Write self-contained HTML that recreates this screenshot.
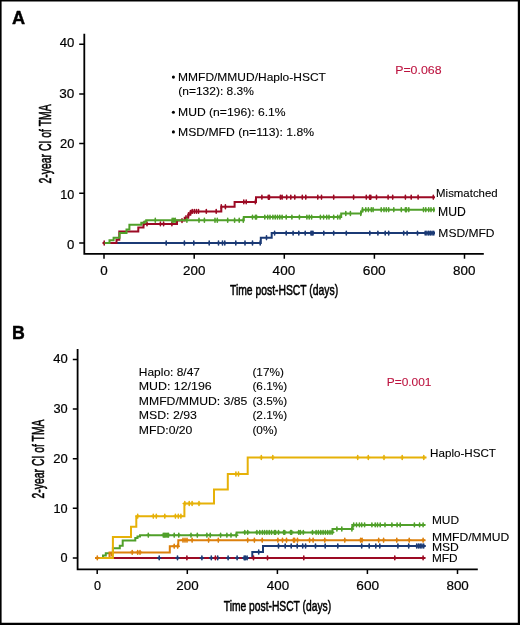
<!DOCTYPE html>
<html><head><meta charset="utf-8"><title>Figure</title>
<style>html,body{margin:0;padding:0;background:#fff;}body{width:520px;height:625px;overflow:hidden;font-family:"Liberation Sans", sans-serif;}svg{display:block;will-change:transform;}</style>
</head><body>
<svg width="520" height="625" viewBox="0 0 520 625"><rect x="0" y="0" width="520" height="625" fill="#fff"/><path d="M104.00,243.00H260.80V237.70H271.70V233.10H435.00" fill="none" stroke="#1b3a75" stroke-width="2.00" stroke-linejoin="miter" stroke-linecap="butt"/><path d="M166.20,241.10V244.90M184.40,241.10V244.90M193.80,241.10V244.90M209.20,241.10V244.90M218.50,241.10V244.90M222.50,241.10V244.90M224.80,241.10V244.90M235.80,241.10V244.90M245.00,241.10V244.90M252.50,241.10V244.90M260.20,241.10V244.90M266.50,235.80V239.60M274.60,231.20V235.00M286.20,231.20V235.00M293.10,231.20V235.00M298.80,231.20V235.00M305.20,231.20V235.00M311.00,231.20V235.00M312.00,231.20V235.00M313.00,231.20V235.00M323.80,231.20V235.00M333.70,231.20V235.00M346.30,231.20V235.00M369.80,231.20V235.00M377.90,231.20V235.00M385.20,231.20V235.00M388.70,231.20V235.00M403.70,231.20V235.00M407.10,231.20V235.00M417.50,231.20V235.00M425.20,231.20V235.00M426.90,231.20V235.00M428.70,231.20V235.00M430.40,231.20V235.00M432.10,231.20V235.00M433.80,231.20V235.00" stroke="#1b3a75" stroke-width="1.60" stroke-linecap="round" fill="none"/><path d="M102.50,243.00H116.50V239.80H119.30V231.40H138.30V227.40H143.50V223.90H177.00V220.60H184.70V217.80H188.20V214.80H190.30V212.50H191.90V211.40H221.30V206.80H234.60V201.90H256.00V197.20H435.00" fill="none" stroke="#9c0a24" stroke-width="2.00" stroke-linejoin="miter" stroke-linecap="butt"/><path d="M104.20,241.10V244.90M143.60,222.00V225.80M147.00,222.00V225.80M160.40,222.00V225.80M163.60,222.00V225.80M171.90,222.00V225.80M182.00,218.70V222.50M186.00,215.90V219.70M188.50,212.90V216.70M190.50,210.60V214.40M192.20,209.50V213.30M194.30,209.50V213.30M196.40,209.50V213.30M198.50,209.50V213.30M206.30,209.50V213.30M216.20,209.50V213.30M221.30,204.90V208.70M225.40,204.90V208.70M243.80,200.00V203.80M246.20,200.00V203.80M255.40,200.00V203.80M261.90,195.30V199.10M268.30,195.30V199.10M269.40,195.30V199.10M280.40,195.30V199.10M282.10,195.30V199.10M286.70,195.30V199.10M290.80,195.30V199.10M294.80,195.30V199.10M302.30,195.30V199.10M305.80,195.30V199.10M317.80,195.30V199.10M321.50,195.30V199.10M333.70,195.30V199.10M353.60,195.30V199.10M366.30,195.30V199.10M369.60,195.30V199.10M370.80,195.30V199.10M376.50,195.30V199.10M388.10,195.30V199.10M392.70,195.30V199.10M405.40,195.30V199.10M411.20,195.30V199.10M418.10,195.30V199.10M433.30,195.30V199.10" stroke="#9c0a24" stroke-width="1.60" stroke-linecap="round" fill="none"/><path d="M104.60,243.00H109.50V240.30H113.60V237.80H119.60V232.90H126.50V229.40H129.40V224.80H141.30V222.70H144.70V221.50H146.20V220.30H243.80V217.10H341.20V213.50H361.00V211.50H362.50V209.70H435.00" fill="none" stroke="#50a02a" stroke-width="2.00" stroke-linejoin="miter" stroke-linecap="butt"/><path d="M155.30,218.40V222.20M172.20,218.40V222.20M173.80,218.40V222.20M175.30,218.40V222.20M186.90,218.40V222.20M199.00,218.40V222.20M204.40,218.40V222.20M215.00,218.40V222.20M217.30,218.40V222.20M227.70,218.40V222.20M234.60,218.40V222.20M239.20,218.40V222.20M243.30,218.40V222.20M252.50,215.20V219.00M255.40,215.20V219.00M256.50,215.20V219.00M264.80,215.20V219.00M267.70,215.20V219.00M270.00,215.20V219.00M272.90,215.20V219.00M275.20,215.20V219.00M277.50,215.20V219.00M279.80,215.20V219.00M282.10,215.20V219.00M286.20,215.20V219.00M291.90,215.20V219.00M299.40,215.20V219.00M306.90,215.20V219.00M309.20,215.20V219.00M311.60,215.20V219.00M320.40,215.20V219.00M323.60,215.20V219.00M326.70,215.20V219.00M329.00,215.20V219.00M333.70,215.20V219.00M337.70,215.20V219.00M340.00,215.20V219.00M345.80,211.60V215.40M350.40,211.60V215.40M360.80,211.60V215.40M362.50,207.80V211.60M365.80,207.80V211.60M368.40,207.80V211.60M371.30,207.80V211.60M373.10,207.80V211.60M381.20,207.80V211.60M384.00,207.80V211.60M386.30,207.80V211.60M388.70,207.80V211.60M393.80,207.80V211.60M401.30,207.80V211.60M405.40,207.80V211.60M406.50,207.80V211.60M408.80,207.80V211.60M423.50,207.80V211.60M425.80,207.80V211.60M428.70,207.80V211.60M431.00,207.80V211.60M433.80,207.80V211.60" stroke="#50a02a" stroke-width="1.60" stroke-linecap="round" fill="none"/><path d="M84.3,33.8V253.8H483.8" fill="none" stroke="#000" stroke-width="1.8"/><path d="M79.2,44.20H84.3M79.2,93.90H84.3M79.2,143.60H84.3M79.2,193.30H84.3M79.2,243.00H84.3M104.00,253.8V258.8M194.20,253.8V258.8M284.30,253.8V258.8M374.40,253.8V258.8M464.50,253.8V258.8" stroke="#000" stroke-width="1.5" fill="none"/><path d="M97.20,557.90H252.30V552.00H263.00V546.00H425.40" fill="none" stroke="#1b3a75" stroke-width="2.00" stroke-linejoin="miter" stroke-linecap="butt"/><path d="M97.20,557.90H425.40" fill="none" stroke="#9c0a24" stroke-width="2.00" stroke-linejoin="miter" stroke-linecap="butt"/><path d="M97.20,557.90H103.00V555.60H105.80V553.30H112.90V548.30H119.80V545.70H122.70V540.40H135.30V538.00H137.50V536.50H140.00V535.20H236.60V532.40H332.50V529.00H352.50V524.90H425.40" fill="none" stroke="#50a02a" stroke-width="2.00" stroke-linejoin="miter" stroke-linecap="butt"/><path d="M95.00,557.90H109.50V552.40H169.80V546.20H178.30V540.20H425.40" fill="none" stroke="#dc800c" stroke-width="2.00" stroke-linejoin="miter" stroke-linecap="butt"/><path d="M97.80,557.90H112.90V537.00H131.00V526.80H136.30V516.20H184.40V503.50H214.00V489.40H227.80V474.00H247.70V457.50H426.50" fill="none" stroke="#e6b108" stroke-width="2.00" stroke-linejoin="miter" stroke-linecap="butt"/><path d="M159.20,556.00V559.80M157.60,557.90H160.80M177.50,556.00V559.80M175.90,557.90H179.10M201.90,556.00V559.80M200.30,557.90H203.50M211.30,556.00V559.80M209.70,557.90H212.90M217.70,556.00V559.80M216.10,557.90H219.30M228.10,556.00V559.80M226.50,557.90H229.70M237.10,556.00V559.80M235.50,557.90H238.70M244.20,556.00V559.80M242.60,557.90H245.80M245.40,556.00V559.80M243.80,557.90H247.00M247.10,556.00V559.80M245.50,557.90H248.70M258.70,550.10V553.90M257.10,552.00H260.30M278.50,544.10V547.90M276.90,546.00H280.10M285.20,544.10V547.90M283.60,546.00H286.80M291.20,544.10V547.90M289.60,546.00H292.80M297.20,544.10V547.90M295.60,546.00H298.80M302.70,544.10V547.90M301.10,546.00H304.30M305.60,544.10V547.90M304.00,546.00H307.20M315.50,544.10V547.90M313.90,546.00H317.10M325.20,544.10V547.90M323.60,546.00H326.80M337.80,544.10V547.90M336.20,546.00H339.40M361.70,544.10V547.90M360.10,546.00H363.30M369.20,544.10V547.90M367.60,546.00H370.80M375.80,544.10V547.90M374.20,546.00H377.40M379.80,544.10V547.90M378.20,546.00H381.40M397.90,544.10V547.90M396.30,546.00H399.50M408.70,544.10V547.90M407.10,546.00H410.30M416.70,544.10V547.90M415.10,546.00H418.30M418.50,544.10V547.90M416.90,546.00H420.10M420.20,544.10V547.90M418.60,546.00H421.80M421.90,544.10V547.90M420.30,546.00H423.50M423.70,544.10V547.90M422.10,546.00H425.30" stroke="#1b3a75" stroke-width="1.60" stroke-linecap="round" fill="none"/><path d="M186.90,556.00V559.80M185.30,557.90H188.50M215.40,556.00V559.80M213.80,557.90H217.00M253.50,556.00V559.80M251.90,557.90H255.10M267.50,556.00V559.80M265.90,557.90H269.10M303.80,556.00V559.80M302.20,557.90H305.40M394.80,556.00V559.80M393.20,557.90H396.40M423.10,556.00V559.80M421.50,557.90H424.70" stroke="#9c0a24" stroke-width="1.60" stroke-linecap="round" fill="none"/><path d="M148.30,533.30V537.10M146.70,535.20H149.90M163.30,533.30V537.10M161.70,535.20H164.90M164.60,533.30V537.10M163.00,535.20H166.20M165.90,533.30V537.10M164.30,535.20H167.50M167.20,533.30V537.10M165.60,535.20H168.80M168.50,533.30V537.10M166.90,535.20H170.10M174.20,533.30V537.10M172.60,535.20H175.80M178.80,533.30V537.10M177.20,535.20H180.40M191.00,533.30V537.10M189.40,535.20H192.60M197.30,533.30V537.10M195.70,535.20H198.90M206.90,533.30V537.10M205.30,535.20H208.50M210.20,533.30V537.10M208.60,535.20H211.80M220.60,533.30V537.10M219.00,535.20H222.20M226.90,533.30V537.10M225.30,535.20H228.50M231.00,533.30V537.10M229.40,535.20H232.60M236.20,533.30V537.10M234.60,535.20H237.80M244.80,530.50V534.30M243.20,532.40H246.40M247.70,530.50V534.30M246.10,532.40H249.30M256.90,530.50V534.30M255.30,532.40H258.50M259.80,530.50V534.30M258.20,532.40H261.40M262.40,530.50V534.30M260.80,532.40H264.00M264.60,530.50V534.30M263.00,532.40H266.20M266.90,530.50V534.30M265.30,532.40H268.50M269.20,530.50V534.30M267.60,532.40H270.80M271.50,530.50V534.30M269.90,532.40H273.10M274.40,530.50V534.30M272.80,532.40H276.00M275.60,530.50V534.30M274.00,532.40H277.20M278.50,530.50V534.30M276.90,532.40H280.10M283.70,530.50V534.30M282.10,532.40H285.30M284.80,530.50V534.30M283.20,532.40H286.40M290.60,530.50V534.30M289.00,532.40H292.20M291.70,530.50V534.30M290.10,532.40H293.30M298.70,530.50V534.30M297.10,532.40H300.30M300.40,530.50V534.30M298.80,532.40H302.00M303.30,530.50V534.30M301.70,532.40H304.90M312.50,530.50V534.30M310.90,532.40H314.10M316.10,530.50V534.30M314.50,532.40H317.70M318.40,530.50V534.30M316.80,532.40H320.00M320.80,530.50V534.30M319.20,532.40H322.40M323.10,530.50V534.30M321.50,532.40H324.70M325.40,530.50V534.30M323.80,532.40H327.00M327.70,530.50V534.30M326.10,532.40H329.30M330.00,530.50V534.30M328.40,532.40H331.60M332.10,530.50V534.30M330.50,532.40H333.70M336.90,527.10V530.90M335.30,529.00H338.50M341.80,527.10V530.90M340.20,529.00H343.40M351.90,527.10V530.90M350.30,529.00H353.50M353.70,523.00V526.80M352.10,524.90H355.30M356.50,523.00V526.80M354.90,524.90H358.10M359.40,523.00V526.80M357.80,524.90H361.00M361.70,523.00V526.80M360.10,524.90H363.30M364.60,523.00V526.80M363.00,524.90H366.20M371.90,523.00V526.80M370.30,524.90H373.50M375.20,523.00V526.80M373.60,524.90H376.80M377.50,523.00V526.80M375.90,524.90H379.10M380.20,523.00V526.80M378.60,524.90H381.80M385.00,523.00V526.80M383.40,524.90H386.60M391.90,523.00V526.80M390.30,524.90H393.50M397.10,523.00V526.80M395.50,524.90H398.70M400.20,523.00V526.80M398.60,524.90H401.80M414.40,523.00V526.80M412.80,524.90H416.00M419.60,523.00V526.80M418.00,524.90H421.20M423.10,523.00V526.80M421.50,524.90H424.70" stroke="#50a02a" stroke-width="1.60" stroke-linecap="round" fill="none"/><path d="M97.30,556.00V559.80M95.70,557.90H98.90M132.20,550.50V554.30M130.60,552.40H133.80M137.70,550.50V554.30M136.10,552.40H139.30M140.00,550.50V554.30M138.40,552.40H141.60M174.20,544.30V548.10M172.60,546.20H175.80M177.70,544.30V548.10M176.10,546.20H179.30M183.00,538.30V542.10M181.40,540.20H184.60M185.00,538.30V542.10M183.40,540.20H186.60M187.00,538.30V542.10M185.40,540.20H188.60M192.10,538.30V542.10M190.50,540.20H193.70M208.60,538.30V542.10M207.00,540.20H210.20M218.30,538.30V542.10M216.70,540.20H219.90M247.70,538.30V542.10M246.10,540.20H249.30M254.40,538.30V542.10M252.80,540.20H256.00M262.20,538.30V542.10M260.60,540.20H263.80M277.90,538.30V542.10M276.30,540.20H279.50M282.50,538.30V542.10M280.90,540.20H284.10M286.50,538.30V542.10M284.90,540.20H288.10M293.50,538.30V542.10M291.90,540.20H295.10M294.60,538.30V542.10M293.00,540.20H296.20M297.50,538.30V542.10M295.90,540.20H299.10M309.60,538.30V542.10M308.00,540.20H311.20M313.10,538.30V542.10M311.50,540.20H314.70M324.80,538.30V542.10M323.20,540.20H326.40M344.80,538.30V542.10M343.20,540.20H346.40M360.60,538.30V542.10M359.00,540.20H362.20M362.10,538.30V542.10M360.50,540.20H363.70M378.70,538.30V542.10M377.10,540.20H380.30M383.60,538.30V542.10M382.00,540.20H385.20M396.80,538.30V542.10M395.20,540.20H398.40M409.20,538.30V542.10M407.60,540.20H410.80M423.10,538.30V542.10M421.50,540.20H424.70" stroke="#dc800c" stroke-width="1.60" stroke-linecap="round" fill="none"/><path d="M137.70,514.30V518.10M136.10,516.20H139.30M153.30,514.30V518.10M151.70,516.20H154.90M156.30,514.30V518.10M154.70,516.20H157.90M164.80,514.30V518.10M163.20,516.20H166.40M175.40,514.30V518.10M173.80,516.20H177.00M178.30,514.30V518.10M176.70,516.20H179.90M180.90,514.30V518.10M179.30,516.20H182.50M184.80,501.60V505.40M183.20,503.50H186.40M189.20,501.60V505.40M187.60,503.50H190.80M192.10,501.60V505.40M190.50,503.50H193.70M199.00,501.60V505.40M197.40,503.50H200.60M235.90,472.10V475.90M234.30,474.00H237.50M238.50,472.10V475.90M236.90,474.00H240.10M261.30,455.60V459.40M259.70,457.50H262.90M272.80,455.60V459.40M271.20,457.50H274.40M357.70,455.60V459.40M356.10,457.50H359.30M368.30,455.60V459.40M366.70,457.50H369.90M384.00,455.60V459.40M382.40,457.50H385.60M402.20,455.60V459.40M400.60,457.50H403.80M423.80,455.60V459.40M422.20,457.50H425.40" stroke="#e6b108" stroke-width="1.60" stroke-linecap="round" fill="none"/><path d="M111.3,552.4V556.4" stroke="#dc800c" stroke-width="1.4" fill="none"/><path d="M77.6,349.1V569.4H477.8" fill="none" stroke="#000" stroke-width="1.8"/><path d="M72.8,359.40H77.6M72.8,409.00H77.6M72.8,458.70H77.6M72.8,508.30H77.6M72.8,557.90H77.6M97.20,569.4V574M187.30,569.4V574M277.40,569.4V574M367.40,569.4V574M457.50,569.4V574" stroke="#000" stroke-width="1.5" fill="none"/><g font-family='"Liberation Sans", sans-serif'><text x="11.92" y="24.20" font-size="18.80" textLength="13.13" lengthAdjust="spacingAndGlyphs" font-weight="bold" stroke="#000" stroke-width="0.45" stroke-linejoin="round" fill="#000">A</text><text x="12.09" y="339.20" font-size="18.90" textLength="12.83" lengthAdjust="spacingAndGlyphs" font-weight="bold" stroke="#000" stroke-width="0.45" stroke-linejoin="round" fill="#000">B</text><text x="59.69" y="47.00" font-size="12.70" textLength="14.63" lengthAdjust="spacingAndGlyphs" stroke="#000" stroke-width="0.20" stroke-linejoin="round" fill="#000">40</text><text x="59.28" y="97.60" font-size="12.70" textLength="15.06" lengthAdjust="spacingAndGlyphs" stroke="#000" stroke-width="0.20" stroke-linejoin="round" fill="#000">30</text><text x="60.00" y="148.20" font-size="12.70" textLength="14.32" lengthAdjust="spacingAndGlyphs" stroke="#000" stroke-width="0.20" stroke-linejoin="round" fill="#000">20</text><text x="60.31" y="198.70" font-size="12.70" textLength="14.00" lengthAdjust="spacingAndGlyphs" stroke="#000" stroke-width="0.20" stroke-linejoin="round" fill="#000">10</text><text x="66.99" y="249.40" font-size="12.70" textLength="7.34" lengthAdjust="spacingAndGlyphs" stroke="#000" stroke-width="0.20" stroke-linejoin="round" fill="#000">0</text><text x="100.38" y="274.60" font-size="12.90" textLength="7.45" lengthAdjust="spacingAndGlyphs" stroke="#000" stroke-width="0.20" stroke-linejoin="round" fill="#000">0</text><text x="183.10" y="274.60" font-size="12.90" textLength="22.31" lengthAdjust="spacingAndGlyphs" stroke="#000" stroke-width="0.20" stroke-linejoin="round" fill="#000">200</text><text x="272.64" y="274.60" font-size="12.90" textLength="22.55" lengthAdjust="spacingAndGlyphs" stroke="#000" stroke-width="0.20" stroke-linejoin="round" fill="#000">400</text><text x="362.86" y="274.60" font-size="12.90" textLength="22.88" lengthAdjust="spacingAndGlyphs" stroke="#000" stroke-width="0.20" stroke-linejoin="round" fill="#000">600</text><text x="453.03" y="274.60" font-size="12.90" textLength="22.35" lengthAdjust="spacingAndGlyphs" stroke="#000" stroke-width="0.20" stroke-linejoin="round" fill="#000">800</text><text x="53.20" y="363.30" font-size="12.40" textLength="14.48" lengthAdjust="spacingAndGlyphs" stroke="#000" stroke-width="0.20" stroke-linejoin="round" fill="#000">40</text><text x="53.40" y="413.00" font-size="12.40" textLength="14.27" lengthAdjust="spacingAndGlyphs" stroke="#000" stroke-width="0.20" stroke-linejoin="round" fill="#000">30</text><text x="53.19" y="462.90" font-size="12.40" textLength="14.48" lengthAdjust="spacingAndGlyphs" stroke="#000" stroke-width="0.20" stroke-linejoin="round" fill="#000">20</text><text x="53.50" y="512.60" font-size="12.40" textLength="14.16" lengthAdjust="spacingAndGlyphs" stroke="#000" stroke-width="0.20" stroke-linejoin="round" fill="#000">10</text><text x="60.60" y="561.80" font-size="12.40" textLength="7.06" lengthAdjust="spacingAndGlyphs" stroke="#000" stroke-width="0.20" stroke-linejoin="round" fill="#000">0</text><text x="93.91" y="589.60" font-size="12.60" textLength="7.01" lengthAdjust="spacingAndGlyphs" stroke="#000" stroke-width="0.20" stroke-linejoin="round" fill="#000">0</text><text x="176.32" y="589.60" font-size="12.60" textLength="22.26" lengthAdjust="spacingAndGlyphs" stroke="#000" stroke-width="0.20" stroke-linejoin="round" fill="#000">200</text><text x="266.82" y="589.60" font-size="12.60" textLength="22.29" lengthAdjust="spacingAndGlyphs" stroke="#000" stroke-width="0.20" stroke-linejoin="round" fill="#000">400</text><text x="356.36" y="589.60" font-size="12.60" textLength="22.78" lengthAdjust="spacingAndGlyphs" stroke="#000" stroke-width="0.20" stroke-linejoin="round" fill="#000">600</text><text x="446.48" y="589.60" font-size="12.60" textLength="22.35" lengthAdjust="spacingAndGlyphs" stroke="#000" stroke-width="0.20" stroke-linejoin="round" fill="#000">800</text><text x="229.94" y="295.20" font-size="15.00" textLength="108.20" lengthAdjust="spacingAndGlyphs" stroke="#000" stroke-width="0.55" stroke-linejoin="round" fill="#000">Time post-HSCT (days)</text><text x="223.74" y="610.80" font-size="15.00" textLength="107.39" lengthAdjust="spacingAndGlyphs" stroke="#000" stroke-width="0.55" stroke-linejoin="round" fill="#000">Time post-HSCT (days)</text><text transform="translate(51.00,183.00) rotate(-90)" x="-0.49" y="0" font-size="15.90" textLength="79.24" lengthAdjust="spacingAndGlyphs" stroke="#000" stroke-width="0.55" stroke-linejoin="round" fill="#000">2-year CI of TMA</text><text transform="translate(44.00,498.00) rotate(-90)" x="-0.49" y="0" font-size="15.70" textLength="79.04" lengthAdjust="spacingAndGlyphs" stroke="#000" stroke-width="0.55" stroke-linejoin="round" fill="#000">2-year CI of TMA</text><text x="178.11" y="80.90" font-size="11.00" textLength="147.79" lengthAdjust="spacingAndGlyphs" stroke="#000" stroke-width="0.10" stroke-linejoin="round" fill="#000">MMFD/MMUD/Haplo-HSCT</text><text x="178.34" y="95.10" font-size="11.00" textLength="75.52" lengthAdjust="spacingAndGlyphs" stroke="#000" stroke-width="0.10" stroke-linejoin="round" fill="#000">(n=132): 8.3%</text><text x="178.05" y="116.20" font-size="11.00" textLength="107.51" lengthAdjust="spacingAndGlyphs" stroke="#000" stroke-width="0.10" stroke-linejoin="round" fill="#000">MUD (n=196): 6.1%</text><text x="178.05" y="135.80" font-size="11.00" textLength="136.06" lengthAdjust="spacingAndGlyphs" stroke="#000" stroke-width="0.10" stroke-linejoin="round" fill="#000">MSD/MFD (n=113): 1.8%</text><text x="395.19" y="74.25" font-size="11.50" textLength="46.31" lengthAdjust="spacingAndGlyphs" stroke="#bd1440" stroke-width="0.10" stroke-linejoin="round" fill="#bd1440">P=0.068</text><text x="436.11" y="197.00" font-size="11.50" textLength="61.53" lengthAdjust="spacingAndGlyphs" stroke="#000" stroke-width="0.10" stroke-linejoin="round" fill="#000">Mismatched</text><text x="438.05" y="215.90" font-size="12.00" textLength="27.78" lengthAdjust="spacingAndGlyphs" stroke="#000" stroke-width="0.10" stroke-linejoin="round" fill="#000">MUD</text><text x="438.36" y="236.90" font-size="11.80" textLength="56.16" lengthAdjust="spacingAndGlyphs" stroke="#000" stroke-width="0.10" stroke-linejoin="round" fill="#000">MSD/MFD</text><text x="138.82" y="375.90" font-size="11.30" textLength="61.17" lengthAdjust="spacingAndGlyphs" stroke="#000" stroke-width="0.10" stroke-linejoin="round" fill="#000">Haplo: 8/47</text><text x="252.45" y="375.90" font-size="11.30" textLength="31.46" lengthAdjust="spacingAndGlyphs" stroke="#000" stroke-width="0.10" stroke-linejoin="round" fill="#000">(17%)</text><text x="138.78" y="390.30" font-size="11.30" textLength="72.92" lengthAdjust="spacingAndGlyphs" stroke="#000" stroke-width="0.10" stroke-linejoin="round" fill="#000">MUD: 12/196</text><text x="252.45" y="390.30" font-size="11.30" textLength="34.66" lengthAdjust="spacingAndGlyphs" stroke="#000" stroke-width="0.10" stroke-linejoin="round" fill="#000">(6.1%)</text><text x="138.80" y="404.70" font-size="11.30" textLength="108.60" lengthAdjust="spacingAndGlyphs" stroke="#000" stroke-width="0.10" stroke-linejoin="round" fill="#000">MMFD/MMUD: 3/85</text><text x="252.45" y="404.70" font-size="11.30" textLength="34.66" lengthAdjust="spacingAndGlyphs" stroke="#000" stroke-width="0.10" stroke-linejoin="round" fill="#000">(3.5%)</text><text x="138.79" y="419.20" font-size="11.30" textLength="58.11" lengthAdjust="spacingAndGlyphs" stroke="#000" stroke-width="0.10" stroke-linejoin="round" fill="#000">MSD: 2/93</text><text x="252.45" y="419.20" font-size="11.30" textLength="34.66" lengthAdjust="spacingAndGlyphs" stroke="#000" stroke-width="0.10" stroke-linejoin="round" fill="#000">(2.1%)</text><text x="138.80" y="433.50" font-size="11.30" textLength="53.61" lengthAdjust="spacingAndGlyphs" stroke="#000" stroke-width="0.10" stroke-linejoin="round" fill="#000">MFD:0/20</text><text x="252.45" y="433.50" font-size="11.30" textLength="24.97" lengthAdjust="spacingAndGlyphs" stroke="#000" stroke-width="0.10" stroke-linejoin="round" fill="#000">(0%)</text><text x="386.77" y="386.25" font-size="11.50" textLength="44.71" lengthAdjust="spacingAndGlyphs" stroke="#bd1440" stroke-width="0.10" stroke-linejoin="round" fill="#bd1440">P=0.001</text><text x="430.09" y="457.40" font-size="11.50" textLength="65.81" lengthAdjust="spacingAndGlyphs" stroke="#000" stroke-width="0.10" stroke-linejoin="round" fill="#000">Haplo-HSCT</text><text x="431.92" y="523.60" font-size="11.30" textLength="27.20" lengthAdjust="spacingAndGlyphs" stroke="#000" stroke-width="0.10" stroke-linejoin="round" fill="#000">MUD</text><text x="431.90" y="540.75" font-size="11.30" textLength="77.32" lengthAdjust="spacingAndGlyphs" stroke="#000" stroke-width="0.10" stroke-linejoin="round" fill="#000">MMFD/MMUD</text><text x="431.90" y="551.25" font-size="11.30" textLength="26.92" lengthAdjust="spacingAndGlyphs" stroke="#000" stroke-width="0.10" stroke-linejoin="round" fill="#000">MSD</text><text x="431.93" y="561.75" font-size="11.30" textLength="25.58" lengthAdjust="spacingAndGlyphs" stroke="#000" stroke-width="0.10" stroke-linejoin="round" fill="#000">MFD</text><circle cx="173.4" cy="77.10" r="1.55" fill="#000"/><circle cx="173.4" cy="112.20" r="1.55" fill="#000"/><circle cx="173.4" cy="131.90" r="1.55" fill="#000"/></g><path d="M0,0H520V1.6H0ZM0,0H1.6V625H0ZM517.8,0H520V625H517.8ZM0,622.8H520V625H0Z" fill="#000"/></svg>
</body></html>
